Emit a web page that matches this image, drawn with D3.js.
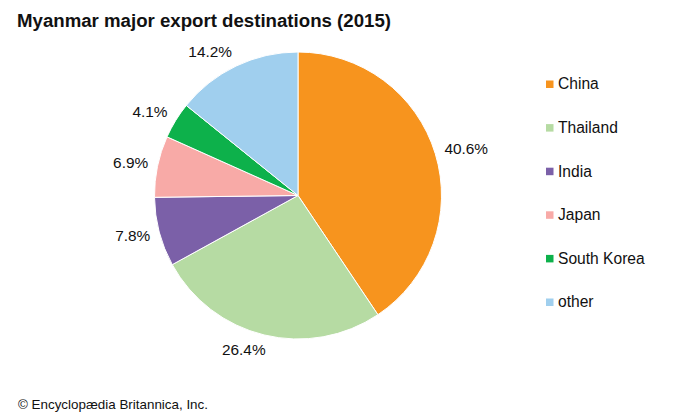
<!DOCTYPE html>
<html>
<head>
<meta charset="utf-8">
<style>
  body { margin: 0; background: #fff; }
  text { font-family: "Liberation Sans", Arial, sans-serif; fill: #111; }
</style>
<script src="https://cdn.jsdelivr.net/npm/d3@7"></script>
</head>
<body>
<script>
let categories = ["China", "Thailand", "India", "Japan", "South Korea", "other"];
let shares = [40.6, 26.4, 7.8, 6.9, 4.1, 14.2];
let colours = ["#f7941e", "#b6dba3", "#7b60a8", "#f8aaa7", "#0db14b", "#a0cfee"];

let svg = d3.select("body")
  .append("svg")
  .attr("width", 700)
  .attr("height", 420)
  .style("display", "block")

svg.append("text")
  .attr("x", 17)
  .attr("y", 27)
  .attr("font-size", 18.65)
  .attr("font-weight", "bold")
  .text("Myanmar major export destinations (2015)")

// pie, clockwise from the top
let radius = 143.5;
let g = svg.append("g")
  .attr("transform", "translate(298,195.5)")

let pie = d3.pie().sort(null).value((d) => d)
let slices = pie(shares)
let arc = d3.arc().innerRadius(0).outerRadius(radius)
let labelArc = d3.arc().innerRadius(153).outerRadius(153)

g.selectAll("path")
  .data(slices)
  .enter()
  .append("path")
  .attr("d", arc)
  .attr("fill", (d, i) => colours[i])
  .attr("stroke", "#fff")
  .attr("stroke-width", 1)

// right half starts at the label's left edge, left half ends at it
let midAngle = (d) => (d.startAngle + d.endAngle) / 2
let bottomPull = (d) => Math.pow(Math.min(0, Math.cos(midAngle(d))), 2) * 4

g.selectAll("text")
  .data(slices)
  .enter()
  .append("text")
  .attr("x", (d) => labelArc.centroid(d)[0] + bottomPull(d))
  .attr("y", (d) => labelArc.centroid(d)[1] - Math.cos(midAngle(d)) * 6 - 0.5)
  .attr("dy", "0.35em")
  .attr("text-anchor", (d) => midAngle(d) < Math.PI ? "start" : "end")
  .attr("font-size", 15.4)
  .text((d) => d.data.toFixed(1) + "%")

// legend
let legendY = d3.scalePoint().domain(categories).range([84, 302])

let rows = svg.append("g")
  .selectAll("g")
  .data(categories)
  .enter()
  .append("g")
  .attr("transform", (d) => `translate(546,${legendY(d)})`)

rows.append("rect")
  .attr("x", 0)
  .attr("y", -3.5)
  .attr("width", 7.5)
  .attr("height", 7.5)
  .attr("fill", (d, i) => colours[i])

rows.append("text")
  .attr("x", 12)
  .attr("dy", "0.35em")
  .attr("font-size", 15.6)
  .text((d) => d)

svg.append("text")
  .attr("x", 18)
  .attr("y", 409)
  .attr("font-size", 13.4)
  .text("© Encyclopædia Britannica, Inc.")
</script>
</body>
</html>
